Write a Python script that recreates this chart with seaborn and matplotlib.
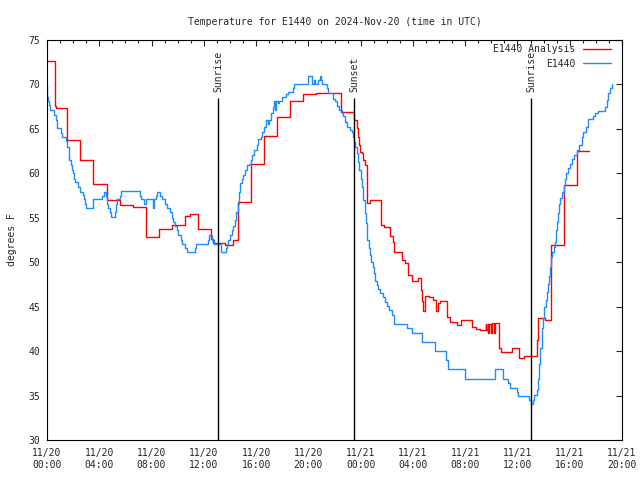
import numpy as np
import pandas as pd
import matplotlib
matplotlib.use('Agg')
import matplotlib.pyplot as plt
import seaborn as sns

# hours since 11/20 00:00 UTC and temperature (F)
red_hours = [0.0, 0.6, 0.7, 1.55, 2.55, 3.55, 4.57, 5.6, 6.6, 7.57, 8.57, 9.54,
             10.56, 10.94, 11.58, 12.55, 12.7, 13.6, 14.26, 14.6, 15.6, 16.6,
             17.6, 18.6, 19.6, 20.6, 22.5, 23.49, 23.7, 23.79, 23.9, 23.97,
             24.1, 24.2, 24.31, 24.51, 24.71, 25.53, 25.81, 26.24, 26.45, 26.55,
             27.19, 27.39, 27.65, 27.95, 28.41, 28.59, 28.67, 28.79, 28.9, 29.23,
             29.56, 29.74, 29.92, 30.07, 30.63, 30.83, 31.35, 31.68, 32.49, 32.8,
             33.13, 33.56, 33.61, 33.72, 33.77, 33.84, 33.95, 34.07, 34.23, 34.28,
             34.58, 34.74, 35.55, 36.11, 36.5, 37.51, 37.58, 37.64, 38.1, 38.54,
             39.53, 40.53, 41.49]
red_temp = [72.6, 67.6, 67.4, 63.8, 61.5, 58.8, 57.0, 56.4, 56.2, 52.8, 53.7, 54.15,
            55.2, 55.4, 53.7, 52.6, 52.2, 51.9, 52.5, 56.8, 61.0, 64.2,
            66.3, 68.1, 68.9, 69.0, 66.9, 66.0, 65.1, 64.1, 63.2, 62.4,
            62.25, 61.5, 60.9, 56.7, 57.0, 54.2, 54.0, 52.9, 52.3, 51.2,
            50.25, 49.9, 48.6, 47.9, 48.2, 46.9, 45.6, 44.5, 46.2, 46.05,
            45.7, 44.55, 45.4, 45.6, 43.8, 43.3, 42.9, 43.5, 42.75, 42.45,
            42.4, 43.1, 42.4, 43.1, 42.0, 43.0, 42.0, 43.2, 42.0, 43.2,
            40.4, 39.9, 40.4, 39.25, 39.5, 41.25, 43.7, 43.7, 43.5, 51.9,
            58.7, 62.5, 62.5]

blue_hours = [0.0, 0.03, 0.1, 0.18, 0.25, 0.54, 0.66, 0.74, 1.1, 1.17,
              1.43, 1.56, 1.66, 1.71, 1.81, 1.89, 1.96, 2.04, 2.12, 2.4,
              2.5, 2.75, 2.83, 2.93, 3.0, 3.49, 3.55, 4.23, 4.33, 4.49,
              4.56, 4.61, 4.69, 4.79, 4.87, 5.23, 5.3, 5.38, 5.56, 5.69,
              7.09, 7.17, 7.42, 7.55, 8.08, 8.15, 8.31, 8.44, 8.65, 8.77,
              9.03, 9.16, 9.41, 9.54, 9.67, 9.79, 9.92, 10.05, 10.23, 10.35,
              10.56, 10.69, 11.32, 11.4, 12.29, 12.37, 12.62, 12.78, 13.31, 13.7,
              13.8, 13.87, 14.0, 14.13, 14.26, 14.38, 14.5, 14.6, 14.66, 14.72,
              14.79, 14.9, 15.02, 15.15, 15.28, 15.46, 15.61, 15.71, 15.86, 16.04,
              16.17, 16.37, 16.47, 16.6, 16.73, 16.93, 17.01, 17.14, 17.27, 17.37,
              17.44, 17.52, 17.65, 17.77, 17.96, 18.29, 18.46, 18.85, 18.92, 19.99,
              20.3, 20.45, 20.5, 20.76, 20.89, 20.96, 21.07, 21.4, 21.52, 21.91,
              22.03, 22.17, 22.34, 22.55, 22.67, 22.8, 22.93, 23.2, 23.31, 23.39,
              23.49, 23.59, 23.7, 23.79, 23.9, 24.0, 24.1, 24.2, 24.31, 24.41,
              24.51, 24.61, 24.71, 24.81, 24.92, 25.02, 25.12, 25.22, 25.33, 25.48,
              25.68, 25.84, 25.99, 26.19, 26.37, 26.57, 27.55, 27.93, 28.67, 29.69,
              30.55, 30.65, 31.98, 34.28, 34.9, 35.3, 35.42, 35.94, 36.06, 36.9,
              37.01, 37.21, 37.28, 37.51, 37.59, 37.67, 37.74, 37.85, 37.97, 38.05,
              38.16, 38.23, 38.36, 38.43, 38.51, 38.56, 38.66, 38.77, 38.87, 38.94,
              39.02, 39.12, 39.2, 39.27, 39.38, 39.53, 39.63, 39.73, 39.88, 40.02,
              40.15, 40.32, 40.53, 40.7, 40.91, 41.03, 41.21, 41.37, 41.75, 41.93,
              42.13, 42.69, 42.82, 42.95, 43.08, 43.2]
blue_temp = [69.8, 68.6, 68.1, 67.7, 67.1, 66.6, 66.0, 65.1, 64.5, 64.05,
             63.6, 63.0, 62.6, 61.5, 60.9, 60.4, 60.0, 59.4, 59.0, 58.5,
             57.9, 57.6, 57.1, 56.6, 56.1, 56.6, 57.1, 57.5, 57.9, 57.5,
             57.1, 56.6, 56.1, 55.6, 55.05, 55.6, 56.6, 57.1, 57.5, 58.0,
             57.5, 57.1, 56.6, 57.1, 56.1, 57.1, 57.5, 57.9, 57.5, 57.1,
             56.6, 56.1, 55.6, 54.95, 54.5, 54.1, 53.6, 53.05, 52.5, 52.05,
             51.6, 51.1, 51.6, 52.05, 52.5, 53.05, 52.5, 52.05, 51.1, 51.6,
             52.05, 52.5, 53.05, 53.6, 54.1, 54.75, 55.6, 56.6, 57.4, 57.9,
             58.9, 59.4, 59.8, 60.4, 60.9, 61.0, 61.5, 62.05, 62.6, 63.2,
             63.9, 64.1, 64.7, 65.25, 66.0, 65.6, 66.0, 66.75, 67.5, 68.1,
             67.1, 68.1, 67.9, 68.1, 68.6, 68.9, 69.2, 69.55, 70.0, 71.0,
             70.0, 70.5, 70.0, 70.5, 71.0, 70.5, 70.0, 69.55, 69.0, 68.4,
             68.1, 67.6, 67.1, 66.75, 66.4, 65.8, 65.25, 64.9, 64.7, 64.1,
             63.55, 63.0, 62.25, 61.3, 60.4, 59.4, 58.5, 57.0, 55.5, 54.4,
             52.5, 51.55, 50.8, 50.05, 49.5, 48.75, 47.9, 47.4, 46.95, 46.5,
             46.05, 45.55, 45.1, 44.6, 44.05, 43.1, 42.55, 42.05, 41.05, 40.05,
             39.0, 37.95, 36.9, 37.95, 36.9, 36.45, 35.9, 35.45, 34.95, 34.5,
             34.05, 34.5, 35.05, 35.6, 36.9, 38.6, 40.35, 42.55, 43.7, 45.0,
             45.75, 46.7, 47.6, 48.4, 49.5, 50.6, 51.2, 51.75, 52.3, 53.6,
             54.55, 55.5, 56.6, 57.2, 57.9, 58.7, 59.4, 60.0, 60.55, 61.0,
             61.6, 62.05, 62.6, 63.2, 64.1, 64.7, 65.25, 66.1, 66.4, 66.75,
             67.05, 67.5, 68.25, 69.0, 69.55, 70.05]

event_hours = [13.08, 23.49, 37.03]
event_names = ['Sunrise', 'Sunset', 'Sunrise']

tick_hours = [0, 4, 8, 12, 16, 20, 24, 28, 32, 36, 40, 44]
tick_labels = ['11/20\n00:00', '11/20\n04:00', '11/20\n08:00', '11/20\n12:00',
               '11/20\n16:00', '11/20\n20:00', '11/21\n00:00', '11/21\n04:00',
               '11/21\n08:00', '11/21\n12:00', '11/21\n16:00', '11/21\n20:00']

sns.set_style('white')
plt.rcParams['font.family'] = ['DejaVu Sans Mono']
plt.rcParams['font.size'] = 7

red = pd.DataFrame({'hours': red_hours, 'temp': red_temp})
blue = pd.DataFrame({'hours': blue_hours, 'temp': blue_temp})

fig = plt.figure(figsize=(6.4, 4.8), dpi=100)
ax = fig.add_axes([47/640, 40/480, 575/640, 400/480])

sns.lineplot(data=red, x='hours', y='temp', ax=ax, color='#ff0000', lw=1.0,
             drawstyle='steps-post', estimator=None, sort=False, label='E1440 Analysis')
sns.lineplot(data=blue, x='hours', y='temp', ax=ax, color='#1e8cff', lw=1.0,
             drawstyle='steps-post', estimator=None, sort=False, label='E1440')

# sunrise / sunset markers
for h, name in zip(event_hours, event_names):
    ax.vlines(h, 30, 68.5, color='black', lw=1.0)
    ax.text(h, 69.1, name, rotation=90, ha='center', va='bottom', fontsize=7)

ax.set_xlim(0, 44)
ax.set_ylim(30, 75)
ax.set_xticks(tick_hours)
ax.set_xticklabels(tick_labels)
ax.set_xticks(np.arange(0, 45, 1), minor=True)
ax.set_yticks(np.arange(30, 76, 5))
ax.tick_params(which='both', direction='in', top=True, right=True, width=0.8)
ax.tick_params(which='major', length=4)
ax.tick_params(which='minor', length=2.2)
ax.tick_params(axis='x', pad=6)
ax.tick_params(axis='y', pad=5)
for s in ax.spines.values():
    s.set_linewidth(0.8)
    s.set_color('black')

ax.set_xlabel('')
ax.set_ylabel('degrees F', labelpad=8)
ax.set_title('Temperature for E1440 on 2024-Nov-20 (time in UTC)', fontsize=7, pad=11)

ax.legend(loc='upper right', bbox_to_anchor=(0.981, 0.989), frameon=False,
          markerfirst=False, handlelength=2.9, handletextpad=0.8, labelspacing=0.45,
          borderaxespad=0, borderpad=0, fontsize=7)

fig.savefig('out.png', dpi=100)
